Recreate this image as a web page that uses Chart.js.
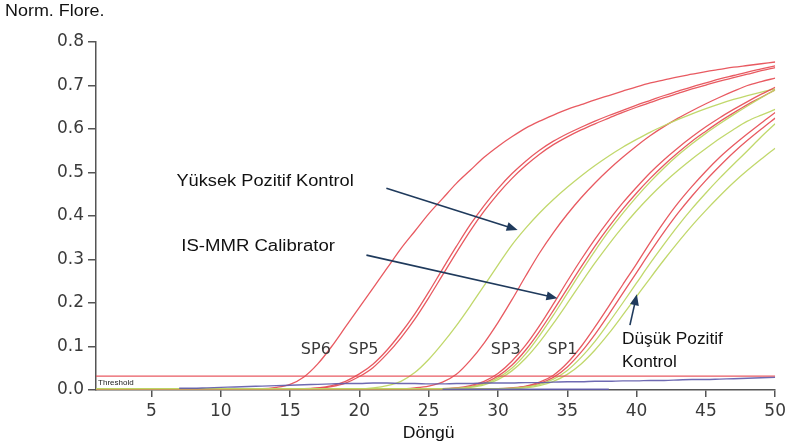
<!DOCTYPE html>
<html><head><meta charset="utf-8">
<script src="https://cdn.jsdelivr.net/npm/chart.js@4/dist/chart.umd.min.js"></script>
<style>html,body{margin:0;padding:0;background:#fff}canvas{display:block}</style>
</head><body>
<canvas id="c" width="790" height="448"></canvas>
<script>
// ---- data ----
const cycles = [1,2,3,4,5,6,7,8,9,10,11,12,13,14,15,16,17,18,19,20,21,22,23,24,25,26,27,28,29,30,31,32,33,34,35,36,37,38,39,40,41,42,43,44,45,46,47,48,49,50];
const xTickValues = [5,10,15,20,25,30,35,40,45,50];
const yTickValues = [0,0.1,0.2,0.3,0.4,0.5,0.6,0.7,0.8];
const thresholdValue = 0.032;

const sp6 = [.003,.003,.003,.003,.003,.003,.003,.003,.003,.003,.003,.003,.003,.006,.013,.03,.06,.1,.145,.19,.235,.28,.325,.365,.405,.44,.475,.505,.535,.56,.582,.602,.618,.632,.645,.656,.667,.677,.687,.697,.706,.713,.72,.726,.732,.737,.742,.746,.75,.754];
const sp5a = [.003,.003,.003,.003,.003,.003,.003,.003,.003,.003,.003,.003,.003,.003,.003,.003,.005,.01,.02,.037,.06,.092,.131,.175,.225,.278,.33,.38,.424,.463,.497,.526,.551,.572,.589,.604,.618,.631,.643,.655,.666,.677,.687,.697,.706,.715,.723,.731,.738,.745];
const sp5b = [.003,.003,.003,.003,.003,.003,.003,.003,.003,.003,.003,.003,.003,.003,.003,.003,.004,.008,.016,.031,.052,.083,.12,.163,.212,.264,.316,.366,.411,.451,.486,.516,.542,.564,.582,.598,.612,.625,.638,.65,.661,.672,.682,.692,.701,.71,.718,.726,.734,.741];
const highPos = [.003,.003,.003,.003,.003,.003,.003,.003,.003,.003,.003,.003,.003,.003,.003,.003,.003,.003,.003,.003,.005,.01,.02,.04,.07,.107,.148,.193,.24,.287,.333,.372,.407,.438,.466,.492,.516,.538,.558,.576,.593,.608,.622,.635,.647,.658,.668,.677,.685,.692];
const sp3 = [.003,.003,.003,.003,.003,.003,.003,.003,.003,.003,.003,.003,.003,.003,.003,.003,.003,.003,.003,.003,.003,.003,.003,.005,.009,.018,.036,.068,.108,.155,.207,.262,.315,.362,.404,.442,.476,.507,.535,.561,.585,.606,.625,.642,.658,.673,.687,.7,.709,.717];
const calRedA = [.003,.003,.003,.003,.003,.003,.003,.003,.003,.003,.003,.003,.003,.003,.003,.003,.003,.003,.003,.003,.003,.003,.003,.003,.003,.003,.005,.01,.02,.038,.066,.103,.148,.198,.25,.3,.347,.39,.43,.466,.5,.53,.557,.582,.605,.626,.645,.663,.68,.696];
const calRedB = [.003,.003,.003,.003,.003,.003,.003,.003,.003,.003,.003,.003,.003,.003,.003,.003,.003,.003,.003,.003,.003,.003,.003,.003,.003,.003,.004,.008,.016,.032,.057,.092,.135,.183,.233,.283,.331,.375,.416,.453,.487,.518,.546,.572,.595,.617,.637,.656,.673,.69];
const calGreenA = [.003,.003,.003,.003,.003,.003,.003,.003,.003,.003,.003,.003,.003,.003,.003,.003,.003,.003,.003,.003,.003,.003,.003,.003,.003,.003,.004,.007,.014,.028,.05,.083,.125,.172,.222,.272,.32,.365,.406,.444,.479,.511,.54,.566,.59,.612,.633,.653,.672,.69];
const calGreenB = [.003,.003,.003,.003,.003,.003,.003,.003,.003,.003,.003,.003,.003,.003,.003,.003,.003,.003,.003,.003,.003,.003,.003,.003,.003,.003,.003,.006,.012,.024,.044,.073,.11,.153,.199,.246,.292,.335,.375,.412,.446,.477,.505,.531,.555,.578,.599,.618,.632,.645];
const lowRedA = [.003,.003,.003,.003,.003,.003,.003,.003,.003,.003,.003,.003,.003,.003,.003,.003,.003,.003,.003,.003,.003,.003,.003,.003,.003,.003,.003,.003,.003,.003,.005,.009,.018,.034,.062,.1,.145,.193,.242,.29,.34,.387,.43,.468,.503,.535,.563,.589,.614,.638];
const lowRedB = [.003,.003,.003,.003,.003,.003,.003,.003,.003,.003,.003,.003,.003,.003,.003,.003,.003,.003,.003,.003,.003,.003,.003,.003,.003,.003,.003,.003,.003,.003,.004,.008,.015,.029,.053,.087,.128,.174,.222,.27,.318,.364,.407,.446,.482,.515,.546,.574,.6,.625];
const lowGreenA = [.003,.003,.003,.003,.003,.003,.003,.003,.003,.003,.003,.003,.003,.003,.003,.003,.003,.003,.003,.003,.003,.003,.003,.003,.003,.003,.003,.003,.003,.003,.004,.007,.013,.025,.045,.075,.112,.155,.2,.246,.292,.336,.378,.417,.453,.487,.519,.55,.582,.612];
const lowGreenB = [.003,.003,.003,.003,.003,.003,.003,.003,.003,.003,.003,.003,.003,.003,.003,.003,.003,.003,.003,.003,.003,.003,.003,.003,.003,.003,.003,.003,.003,.003,.003,.005,.01,.02,.036,.06,.092,.13,.172,.215,.258,.3,.34,.378,.413,.446,.477,.505,.531,.556];
const ntcUpper = [null,null,null,null,null,null,.004,.004,.005,.006,.007,.008,.009,.01,.011,.012,.013,.014,.015,.015,.016,.016,.015,.015,.014,.014,.015,.015,.016,.016,.016,.017,.017,.018,.019,.019,.02,.02,.021,.021,.022,.022,.023,.024,.024,.025,.026,.027,.028,.029];
const ntcLower = [null,null,null,null,null,null,null,null,null,null,null,null,null,null,null,null,null,null,null,null,null,null,null,null,null,.002,.002,.002,.002,.002,.002,.002,.002,.002,.002,.002,.002,.002,null,null,null,null,null,null,null,null,null,null,null,null];

// ---- styling ----
const RED = 'rgba(230,72,80,0.9)';
const GREEN = 'rgba(190,214,100,0.95)';
const BLUE = 'rgba(95,90,170,0.9)';
const NAVY = '#1f3a5c';

function pts(arr){ return arr.map((v,i)=>({x:cycles[i], y:v})); }
function ds(arr,color,w){ return {data:pts(arr), borderColor:color, borderWidth:w||1.3, pointRadius:0, fill:false, cubicInterpolationMode:'monotone', spanGaps:false}; }

const datasets = [
  ds(ntcLower,BLUE,1.5),
  ds(ntcUpper,BLUE,1.4),
  {data:[{x:cycles[0],y:thresholdValue},{x:cycles[cycles.length-1],y:thresholdValue}], borderColor:RED, borderWidth:1.3, pointRadius:0, fill:false},
  ds(lowGreenB,GREEN), ds(lowGreenA,GREEN), ds(lowRedB,RED), ds(lowRedA,RED),
  ds(calGreenB,GREEN), ds(calGreenA,GREEN), ds(calRedB,RED), ds(calRedA,RED),
  ds(highPos,GREEN), ds(sp3,RED), ds(sp5b,RED), ds(sp5a,RED), ds(sp6,RED)
];

const ARIAL = '"Liberation Sans", Arial, sans-serif';
// annotations in data coordinates (cycle, value); sx = horizontal stretch
const texts = [
  {t:'Yüksek Pozitif Kontrol', x:6.8, y:0.478, font:'16px '+ARIAL, color:'#111', sx:1.14},
  {t:'IS-MMR Calibrator', x:7.15, y:0.329, font:'16px '+ARIAL, color:'#111', sx:1.16},
  {t:'Düşük Pozitif', x:38.95, y:0.115, font:'16px '+ARIAL, color:'#111', sx:1.08},
  {t:'Kontrol', x:38.95, y:0.064, font:'16px '+ARIAL, color:'#111', sx:1.08},
  {t:'SP6', x:15.78, y:0.092, font:'16px "DejaVu Sans", sans-serif', color:'#3a3a3a', sx:1},
  {t:'SP5', x:19.22, y:0.092, font:'16px "DejaVu Sans", sans-serif', color:'#3a3a3a', sx:1},
  {t:'SP3', x:29.48, y:0.092, font:'16px "DejaVu Sans", sans-serif', color:'#3a3a3a', sx:1},
  {t:'SP1', x:33.57, y:0.092, font:'16px "DejaVu Sans", sans-serif', color:'#3a3a3a', sx:1},
  {t:'Threshold', x:1.15, y:0.016, font:'8px '+ARIAL, color:'#222', sx:1}
];
const arrows = [
  {x1:21.95, y1:0.464, x2:31.42, y2:0.368},
  {x1:20.51, y1:0.310, x2:34.29, y2:0.211},
  {x1:39.52, y1:0.149, x2:40.02, y2:0.220}
];

function stretchedText(ctx, t, px, py, sx){
  ctx.save(); ctx.translate(px, py); ctx.scale(sx, 1); ctx.fillText(t, 0, 0); ctx.restore();
}

const annotPlugin = {
  id:'annot',
  afterDatasetsDraw(chart){
    const {ctx, scales:{x, y}} = chart;
    ctx.save();
    ctx.textBaseline = 'middle';
    ctx.textAlign = 'left';
    texts.forEach(o=>{ ctx.font=o.font; ctx.fillStyle=o.color; stretchedText(ctx, o.t, x.getPixelForValue(o.x), y.getPixelForValue(o.y), o.sx); });
    arrows.forEach(a=>{
      const x1=x.getPixelForValue(a.x1), y1=y.getPixelForValue(a.y1), x2=x.getPixelForValue(a.x2), y2=y.getPixelForValue(a.y2);
      const ang=Math.atan2(y2-y1,x2-x1), L=11, W=4.5;
      ctx.strokeStyle=NAVY; ctx.fillStyle=NAVY; ctx.lineWidth=1.6;
      ctx.beginPath(); ctx.moveTo(x1,y1); ctx.lineTo(x2-Math.cos(ang)*L*0.8, y2-Math.sin(ang)*L*0.8); ctx.stroke();
      ctx.beginPath();
      ctx.moveTo(x2,y2);
      ctx.lineTo(x2-Math.cos(ang)*L+Math.sin(ang)*W, y2-Math.sin(ang)*L-Math.cos(ang)*W);
      ctx.lineTo(x2-Math.cos(ang)*L-Math.sin(ang)*W, y2-Math.sin(ang)*L+Math.cos(ang)*W);
      ctx.closePath(); ctx.fill();
    });
    // axis titles
    ctx.fillStyle='#111';
    ctx.font='16px '+ARIAL;
    ctx.textAlign='center'; ctx.textBaseline='middle';
    ctx.save(); ctx.translate(x.getPixelForValue(25), chart.chartArea.bottom+44); ctx.scale(1.1,1); ctx.fillText('Döngü', 0, 0); ctx.restore();
    ctx.textAlign='left'; ctx.textBaseline='top';
    ctx.save(); ctx.translate(5, 4); ctx.scale(1.12,1); ctx.fillText('Norm. Flore.', 0, 0); ctx.restore();
    ctx.restore();
  }
};

new Chart(document.getElementById('c'), {
  type:'line',
  data:{datasets},
  options:{
    responsive:false, animation:false, devicePixelRatio:1,
    layout:{padding:{left:0, right:11, top:42, bottom:0}},
    plugins:{legend:{display:false}, tooltip:{enabled:false}},
    scales:{
      x:{type:'linear', min:cycles[0], max:cycles[cycles.length-1],
         afterBuildTicks:(s)=>{ s.ticks = xTickValues.map(v=>({value:v})); },
         afterFit:(s)=>{ s.height = 58; },
         ticks:{color:'#3a3a3a', font:{family:'"DejaVu Sans", sans-serif', size:17}, padding:4, maxRotation:0},
         grid:{display:true, drawOnChartArea:false, drawTicks:true, tickLength:7, color:'#555', lineWidth:1.5},
         border:{display:true, color:'#555', width:1.5}},
      y:{min:0, max:0.8,
         afterBuildTicks:(s)=>{ s.ticks = yTickValues.map(v=>({value:v})); },
         afterFit:(s)=>{ s.width = 96; },
         ticks:{color:'#3a3a3a', font:{family:'"DejaVu Sans", sans-serif', size:17}, padding:4, callback:(v)=>Number(v).toFixed(1)},
         grid:{display:true, drawOnChartArea:false, drawTicks:true, tickLength:8, color:'#555', lineWidth:1.5},
         border:{display:true, color:'#555', width:1.5}}
    }
  },
  plugins:[annotPlugin]
});
</script>
</body></html>
